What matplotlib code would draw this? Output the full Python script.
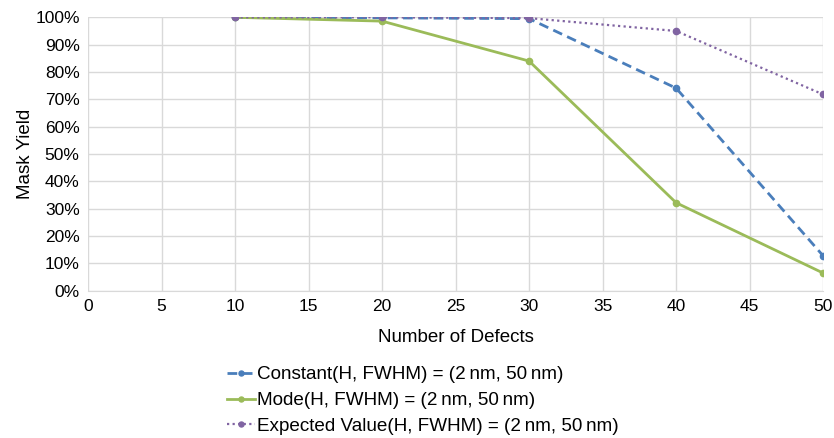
import matplotlib.pyplot as plt
from matplotlib.ticker import PercentFormatter

plt.rcParams['font.family'] = ['Liberation Sans', 'DejaVu Sans']

defects = [10, 20, 30, 40, 50]
constant_yield = [100, 99.8, 99.5, 74.1, 12.8]
mode_yield = [100, 98.6, 84.0, 32.2, 6.5]
expected_yield = [100, 100, 99.7, 95.0, 71.8]

labels = ['Constant(H, FWHM) = (2\u2009nm, 50\u2009nm)',
          'Mode(H, FWHM) = (2\u2009nm, 50\u2009nm)',
          'Expected Value(H, FWHM) = (2\u2009nm, 50\u2009nm)']

fig = plt.figure(figsize=(8.34, 4.38), dpi=100)
ax = fig.add_axes([0.1055, 0.336, 0.8815, 0.6245])

ax.plot(defects, constant_yield, color='#4a7ebb', linestyle=(0, (3.5, 2)), linewidth=2,
        marker='o', markersize=4.5, label=labels[0])
ax.plot(defects, mode_yield, color='#9bbb59', linestyle='-', linewidth=2,
        marker='o', markersize=4.5, label=labels[1])
ax.plot(defects, expected_yield, color='#8064a2', linestyle=(0, (1, 1.5)), linewidth=1.6,
        marker='o', markersize=4.5, label=labels[2])

ax.set_xlim(0, 50)
ax.set_ylim(0, 100)
ax.set_xticks(range(0, 51, 5))
ax.set_yticks(range(0, 101, 10))
ax.yaxis.set_major_formatter(PercentFormatter(decimals=0))
ax.grid(True, color='#d9d9d9', linewidth=1)
ax.set_axisbelow(True)
for s in ['top', 'right', 'left']:
    ax.spines[s].set_visible(False)
ax.spines['bottom'].set_color('#d9d9d9')
ax.tick_params(length=0, labelsize=12.5, pad=6)
ax.set_xlabel('Number of Defects', fontsize=13.5, labelpad=11)
ax.set_ylabel('Mask Yield', fontsize=13.5, labelpad=1)

fig.legend(loc='upper left', bbox_to_anchor=(0.263, 0.181), frameon=False,
           fontsize=13.6, handlelength=1.5, handletextpad=0.12, labelspacing=0.45,
           borderaxespad=0, markerscale=0.8)

fig.savefig('out.png', dpi=100)
